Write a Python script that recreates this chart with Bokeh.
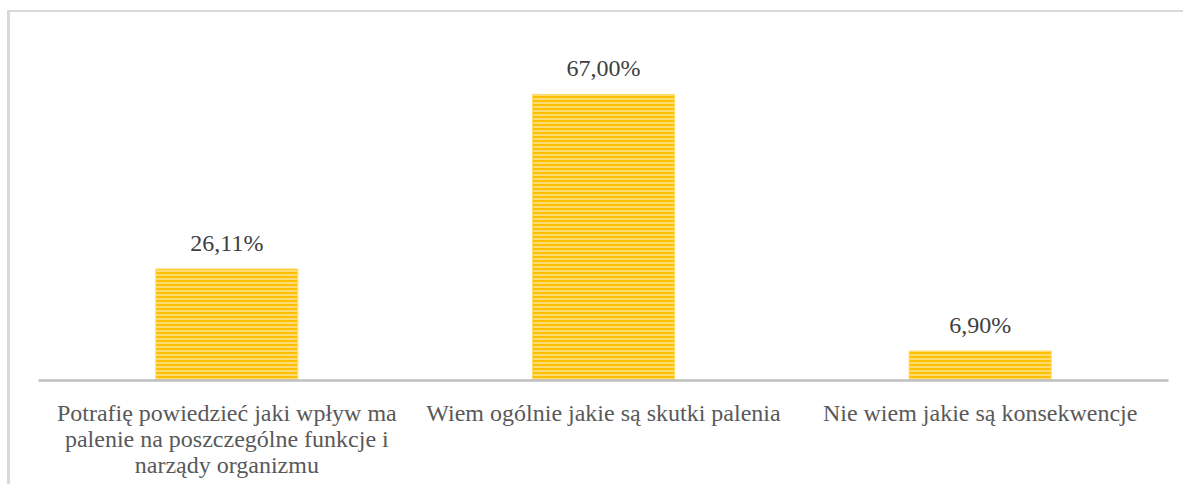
from bokeh.plotting import figure
from bokeh.models import ColumnDataSource, LabelSet
from bokeh.core.properties import value
from bokeh.embed import file_html
from bokeh.resources import INLINE

categories = [
    "Potrafię powiedzieć jaki wpływ ma\npalenie na poszczególne funkcje i\nnarządy organizmu",
    "Wiem ogólnie jakie są skutki palenia",
    "Nie wiem jakie są konsekwencje",
]
values = [26.11, 67.00, 6.90]
labels = ["26,11%", "67,00%", "6,90%"]

src = ColumnDataSource(dict(x=categories, top=values, label=labels))

p = figure(x_range=categories, y_range=(0, 84.3), width=1176, height=474,
           output_backend="svg", toolbar_location=None,
           min_border_left=28, min_border_right=18, min_border_top=8, min_border_bottom=106)
p.styles = {"border-left": "3px solid #d9d9d9", "border-top": "2px solid #d9d9d9",
            "margin-left": "7px", "margin-top": "10px"}
p.outline_line_color = None
p.background_fill_color = "white"
p.border_fill_color = "white"

p.vbar(x="x", top="top", width=0.377, source=src,
       fill_color="#ffc000", line_color="#ffd966", line_width=1,
       hatch_pattern="horizontal_line", hatch_color="#ffe699",
       hatch_scale=4, hatch_weight=1.5)

p.add_layout(LabelSet(x="x", y="top", text="label", source=src,
                      text_align="center", text_baseline="bottom", y_offset=13,
                      text_font=value("Liberation Serif"), text_font_size="24px",
                      text_color="#404040"))

p.yaxis.visible = False
p.xgrid.grid_line_color = None
p.ygrid.grid_line_color = None
ax = p.xaxis[0]
ax.major_tick_line_color = None
ax.minor_tick_line_color = None
ax.axis_line_color = "#bfbfbf"
ax.axis_line_width = 2.5
ax.major_label_standoff = 13
ax.major_label_text_font = "Liberation Serif"
ax.major_label_text_font_size = "24px"
ax.major_label_text_color = "#595959"
ax.major_label_text_line_height = 1.0

open("out.html", "w").write(file_html(p, INLINE))
